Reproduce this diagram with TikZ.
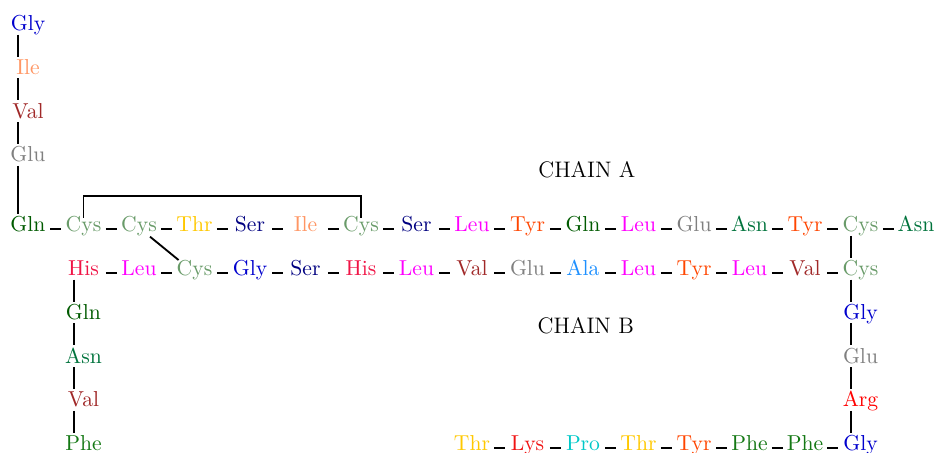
\documentclass[tikz,border=0pt]{standalone}
\usepackage{tikz}
\usepackage{xcolor}

% residue colours
\definecolor{Gly}{RGB}{0,0,205}
\definecolor{Ile}{RGB}{255,150,100}
\definecolor{Val}{RGB}{160,40,40}
\definecolor{Glu}{RGB}{128,128,128}
\definecolor{Gln}{RGB}{0,90,0}
\definecolor{Cys}{RGB}{105,155,105}
\definecolor{Thr}{RGB}{255,200,0}
\definecolor{Ser}{RGB}{0,0,128}
\definecolor{Leu}{RGB}{255,0,255}
\definecolor{Tyr}{RGB}{255,69,0}
\definecolor{Asn}{RGB}{0,115,60}
\definecolor{His}{RGB}{240,20,70}
\definecolor{Ala}{RGB}{30,144,255}
\definecolor{Arg}{RGB}{255,0,0}
\definecolor{Lys}{RGB}{240,20,20}
\definecolor{Pro}{RGB}{0,200,200}
\definecolor{Phe}{RGB}{20,120,20}

\begin{document}
\begin{tikzpicture}[x=27.2pt, y=21.44pt,
    aa/.style={anchor=base, minimum width=21.6pt, inner xsep=0pt, inner ysep=0pt,
               text height=8.6pt, text depth=1.7pt, font=\fontsize{10.6}{12}\selectfont},
    bond/.style={line width=0.9pt, black},
    chain/.style={anchor=base, font=\fontsize{11}{13}\selectfont}]
    \useasboundingbox (-0.5045,-5.051) rectangle (16.396,5.303);

    % Chain A
    \foreach \n [count=\i from 0] in {Gln,Cys,Cys,Thr,Ser,Ile,Cys,Ser,Leu,Tyr,Gln,Leu,Glu,Asn,Tyr,Cys,Asn}
        \node[aa, text=\n] (a\i) at (\i,0) {\n};
    \foreach \n/\y [count=\i] in {Gly/4.6,Ile/3.6,Val/2.6,Glu/1.6}
        \node[aa, text=\n] (t\i) at (0,\y) {\n};

    % Chain B
    \foreach \n [count=\i from 1] in {His,Leu,Cys,Gly,Ser,His,Leu,Val,Glu,Ala,Leu,Tyr,Leu,Val,Cys}
        \node[aa, text=\n] (b\i) at (\i,-1) {\n};
    \foreach \n [count=\i] in {Gln,Asn,Val,Phe}
        \node[aa, text=\n] (l\i) at (1,-1-\i) {\n};
    \foreach \n [count=\i] in {Gly,Glu,Arg,Gly}
        \node[aa, text=\n] (r\i) at (15,-1-\i) {\n};
    \foreach \n [count=\i from 8] in {Thr,Lys,Pro,Thr,Tyr,Phe,Phe}
        \node[aa, text=\n] (c\i) at (\i,-5) {\n};

    % Labels
    \node[chain] (labA) at (10.07,1.25) {CHAIN A};
    \node[chain] (labB) at (10.05,-2.33) {CHAIN B};

    % Horizontal bonds
    \foreach \i [count=\j from 1] in {0,...,15}
        \draw[bond] ([yshift=1.4pt]a\i.base east) -- ([yshift=1.4pt]a\j.base west);
    \foreach \i [count=\j from 2] in {1,...,14}
        \draw[bond] ([yshift=1.4pt]b\i.base east) -- ([yshift=1.4pt]b\j.base west);
    \foreach \i [count=\j from 9] in {8,...,13}
        \draw[bond] ([yshift=1.4pt]c\i.base east) -- ([yshift=1.4pt]c\j.base west);
    \draw[bond] ([yshift=1.4pt]c14.base east) -- ([yshift=1.4pt]r4.base west);

    % Vertical bonds
    \foreach \p/\q in {t1/t2,t2/t3,t3/t4,t4/a0,b1/l1,l1/l2,l2/l3,l3/l4,a15/b15,b15/r1,r1/r2,r2/r3,r3/r4}
        \draw[bond] ([xshift=-4.7pt]\p.south) -- ([xshift=-4.7pt]\q.north);

    % Disulfide bridges
    \draw[bond] ([yshift=6.9pt]a1.base) -- ([yshift=17.6pt]a1.base) -| ([yshift=6.9pt]a6.base);
    \draw[bond] ([xshift=5.4pt,yshift=-2.3pt]a2.base) -- ([xshift=-7.8pt,yshift=7.7pt]b3.base);
\end{tikzpicture}
\end{document}
